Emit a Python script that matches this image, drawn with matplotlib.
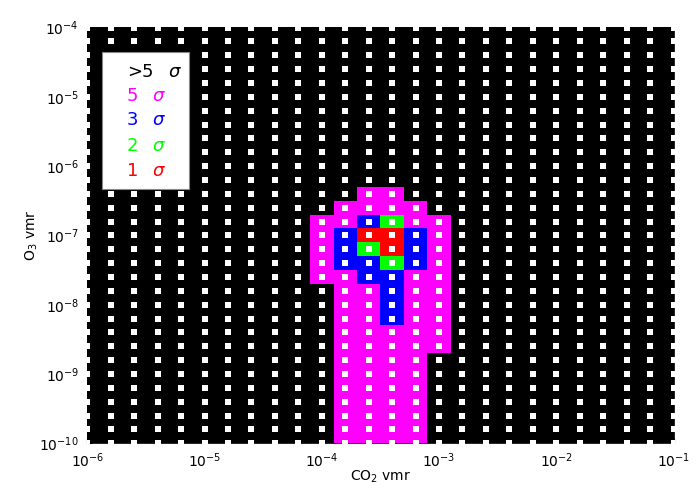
import numpy as np
import matplotlib
matplotlib.use('Agg')
import matplotlib.pyplot as plt
from matplotlib.colors import ListedColormap, BoundaryNorm
from matplotlib.patches import Rectangle

# log10 grid nodes (0.2 dex steps)
x_exp = np.linspace(-6, -1, 26)
y_exp = np.linspace(-10, -4, 31)

# sigma level of each cell (6 means >5 sigma, black)
# block columns: log10 CO2 = -4.0 ... -3.0
block_cols = [-4.0, -3.8, -3.6, -3.4, -3.2, -3.0]
# block rows: log10 O3 from -6.4 down to -10.0
block_rows = [-6.4, -6.6, -6.8, -7.0, -7.2, -7.4, -7.6, -7.8, -8.0, -8.2,
              -8.4, -8.6, -8.8, -9.0, -9.2, -9.4, -9.6, -9.8, -10.0]
block_sigma = [
    [6, 6, 5, 5, 6, 6],
    [6, 5, 5, 5, 5, 6],
    [5, 5, 3, 2, 5, 5],
    [5, 3, 1, 1, 3, 5],
    [5, 3, 2, 1, 3, 5],
    [5, 3, 3, 2, 3, 5],
    [5, 5, 3, 3, 5, 5],
    [6, 5, 5, 3, 5, 5],
    [6, 5, 5, 3, 5, 5],
    [6, 5, 5, 3, 5, 5],
    [6, 5, 5, 5, 5, 5],
    [6, 5, 5, 5, 5, 5],
    [6, 5, 5, 5, 5, 6],
    [6, 5, 5, 5, 5, 6],
    [6, 5, 5, 5, 5, 6],
    [6, 5, 5, 5, 5, 6],
    [6, 5, 5, 5, 5, 6],
    [6, 5, 5, 5, 5, 6],
    [6, 5, 5, 5, 5, 6],
]

legend_labels = ['>5', '5', '3', '2', '1']
legend_colors = ['black', '#FF00FF', '#0000FF', '#00FF00', '#FF0000']

z = np.full((len(y_exp), len(x_exp)), 6)
for r, ly in enumerate(block_rows):
    j = int(round((ly + 10) / 0.2))
    for c, lx in enumerate(block_cols):
        i = int(round((lx + 6) / 0.2))
        z[j, i] = block_sigma[r][c]

# cell edges half a step around the nodes
xe = 10 ** np.append(x_exp - 0.1, x_exp[-1] + 0.1)
ye = 10 ** np.append(y_exp - 0.1, y_exp[-1] + 0.1)

cmap = ListedColormap(['#FF0000', '#00FF00', '#0000FF', '#FF00FF', 'black'])
norm = BoundaryNorm([0.5, 1.5, 2.5, 4, 5.5, 6.5], cmap.N)

fig = plt.figure(figsize=(7, 5), dpi=100)
ax = fig.add_axes([0.1247, 0.1134, 0.8375, 0.8316])
ax.pcolormesh(xe, ye, z, cmap=cmap, norm=norm, shading='flat')

gx, gy = np.meshgrid(10 ** x_exp, 10 ** y_exp)
ax.scatter(gx.ravel(), gy.ravel(), marker='s', s=15, c='white', linewidths=0, zorder=3)

ax.set_xscale('log')
ax.set_yscale('log')
ax.set_xlim(1e-6, 1e-1)
ax.set_ylim(1e-10, 1e-4)
ax.tick_params(which='both', direction='in', color='black', labelsize=10, pad=6)
ax.minorticks_off()
for s in ax.spines.values():
    s.set_linewidth(0.6)
ax.set_xlabel('CO$_2$ vmr', fontsize=10)
ax.set_ylabel('O$_3$ vmr', fontsize=10)
ax.xaxis.set_label_coords(0.5, -0.062)
ax.yaxis.set_label_coords(-0.08, 0.5)

# legend box
ax.add_patch(Rectangle((0.0256, 0.612), 0.148, 0.328, transform=ax.transAxes,
                       facecolor='white', edgecolor='#888888', linewidth=0.8, zorder=5))
ys = [0.894, 0.835, 0.777, 0.715, 0.654]
for k, (lab, col) in enumerate(zip(legend_labels, legend_colors)):
    ax.text(0.0677, ys[k], lab, color=col, fontsize=13, va='center', ha='left',
            transform=ax.transAxes, zorder=6)
    sx = 0.1377 if k == 0 else 0.110
    ax.text(sx, ys[k], r'$\sigma$', color=col, fontsize=13, va='center', ha='left',
            transform=ax.transAxes, zorder=6)

fig.savefig('out.png', dpi=100)
